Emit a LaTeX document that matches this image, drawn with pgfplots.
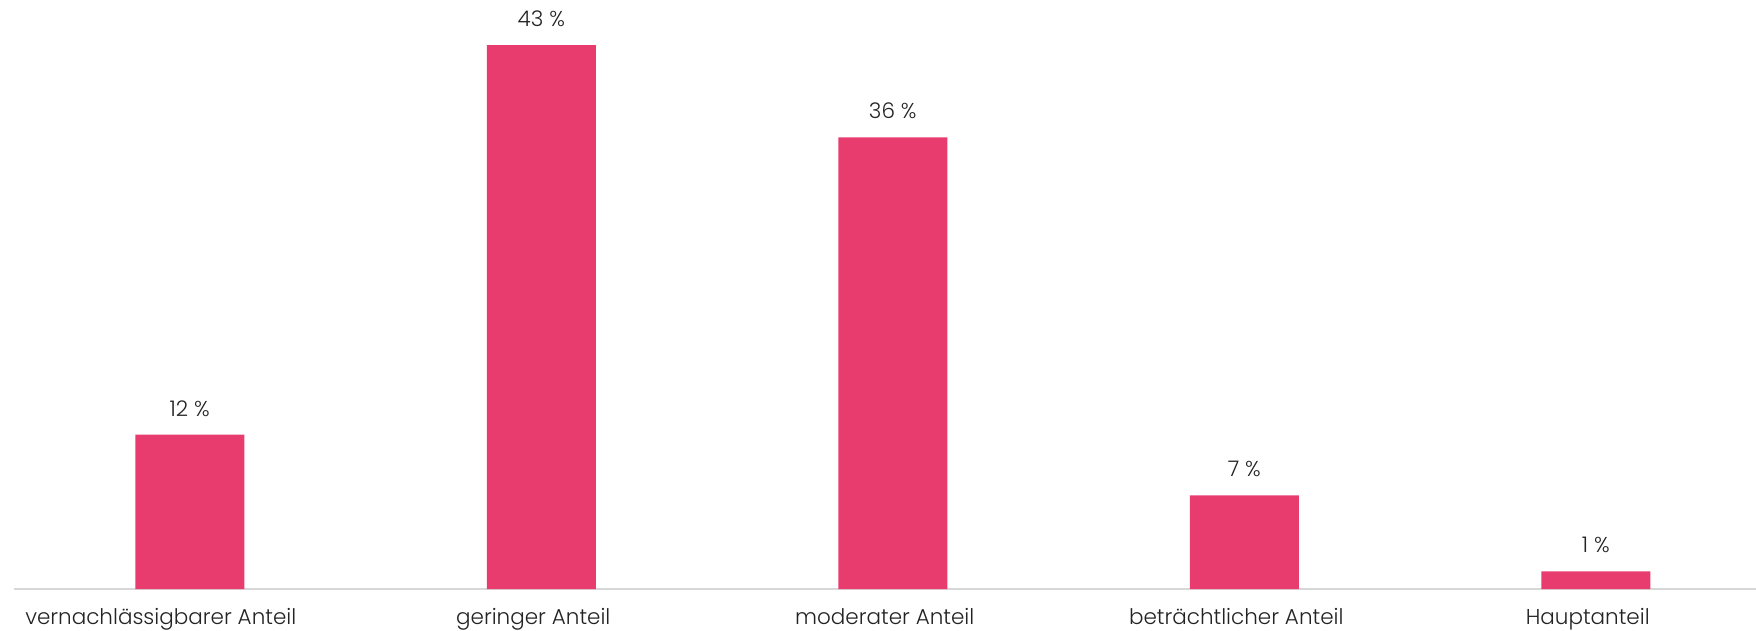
\documentclass[border=0pt]{standalone}
\usepackage{fontspec}
\setmainfont{Poppins}[UprightFont=* Light]
\usepackage{pgfplots}
\pgfplotsset{compat=1.18}
\usepackage{pgfplotstable}
\definecolor{barpink}{RGB}{232,60,110}
\definecolor{axisgray}{RGB}{215,215,215}
\definecolor{txt}{RGB}{35,35,35}
\pgfplotstableread[col sep=comma]{
x,y,lab
0,12.2,12 \%
1,43,43 \%
2,35.7,36 \%
3,7.4,7 \%
4,1.4,1 \%
}\datatable
\begin{document}
\begin{tikzpicture}
\begin{axis}[
  x=351.5pt, y=12.65pt,
  xmin=-0.5, xmax=4.455, ymin=0, ymax=43,
  scale only axis,
  axis x line*=bottom, axis y line=none,
  x axis line style={draw=axisgray, line width=1.2pt, -},
  xtick={0,1,2,3,4}, major tick length=0pt,
  xticklabels={\hspace*{-42pt}vernachlässigbarer Anteil, geringer Anteil, moderater Anteil, beträchtlicher Anteil, Hauptanteil},
  xticklabel style={font=\fontsize{21.5}{25}\selectfont, text=txt, inner sep=0pt, anchor=north, yshift=-19pt, xshift=-8pt},
  ytick=\empty,
  clip=false,
  bar width=109pt,
  nodes near coords={\pgfplotspointmeta},
  point meta=explicit symbolic,
  nodes near coords style={font=\fontsize{21.5}{25}\selectfont, text=txt, inner sep=0pt, anchor=south, yshift=18pt},
]
\addplot[ybar, fill=barpink, draw=none] table[x=x, y=y, meta=lab] {\datatable};
\coordinate (o) at (axis cs:-0.5,0);
\end{axis}
\pgfresetboundingbox
\path ([xshift=-14pt, yshift=-41pt]o) rectangle ([xshift=1742pt, yshift=589pt]o);
\end{tikzpicture}
\end{document}
